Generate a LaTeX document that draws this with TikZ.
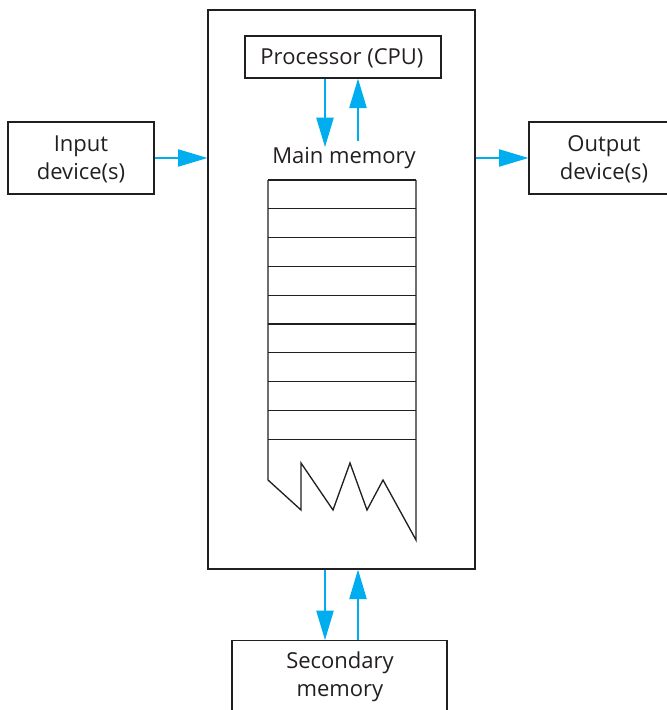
\documentclass[tikz,border=0pt]{standalone}
\usepackage{fontspec}
\setmainfont{Open Sans}
\usetikzlibrary{arrows.meta,calc}
\definecolor{arrcyan}{RGB}{0,174,239}
\definecolor{boxgray}{RGB}{35,31,32}
\begin{document}
\begin{tikzpicture}[x=0.75pt,y=-0.75pt,
  box/.style={draw=boxgray,line width=1pt,rectangle,inner sep=0pt},
  lbl/.style={font=\fontsize{16.5}{21}\selectfont,text=boxgray,align=center,inner sep=0pt},
  arr/.style={draw=arrcyan,line width=0.8pt,-{Triangle[length=22pt,width=13pt,fill=arrcyan]}},
  memline/.style={draw=boxgray,line width=1pt}]
\useasboundingbox (0,0) rectangle (667,710);
\clip (0,0) rectangle (667,710);
% boxes
\node[box,minimum width=200.25pt,minimum height=419.25pt] (main) at (341.5,289.5) {};
\node[box,minimum width=147pt,minimum height=31.5pt] (proc) at (343,57) {};
\node[lbl] (proclbl) at (342,58) {Processor (CPU)};
\node[box,minimum width=109.5pt,minimum height=54pt] (inp) at (81,158) {};
\node[lbl] (inplbl) at (81,159) {Input\\device(s)};
\node[box,minimum width=113.25pt,minimum height=54pt] (out) at (604.5,158) {};
\node[lbl] (outlbl) at (604,159) {Output\\device(s)};
\node[box,minimum width=161.25pt,minimum height=75pt,anchor=north] (sec) at (339.5,640) {};
\node[lbl] (seclbl) at (340,677) {Secondary\\memory};
\node[lbl,anchor=north] (mm) at (344,147) {Main memory};
% column coordinates
\coordinate (c1) at (325,0);
\coordinate (c2) at (358,0);
% arrows
\draw[arr] (inp.east) -- (main.west |- inp.east);
\draw[arr] (main.east |- out.west) -- (out.west);
\draw[arr] (proc.south -| c1) -- (mm.north -| c1);
\draw[arr] ($(mm.north -| c2)+(0,-6)$) -- (proc.south -| c2);
\draw[arr] (main.south -| c1) -- (sec.north -| c1);
\draw[arr] (sec.north -| c2) -- (main.south -| c2);
% memory stack
\foreach \yy in {180,208.8,237.6,266.4,295.2,324,352.8,381.6,410.4,439.2}
  \draw[memline] (268,\yy) -- (416,\yy);
\draw[memline,line join=miter] (268,180) -- (268,480) -- (301,510) -- (301,463) -- (333,510) -- (350,463) -- (367,510) -- (383,480) -- (416,540) -- (416,180);
\end{tikzpicture}
\end{document}
